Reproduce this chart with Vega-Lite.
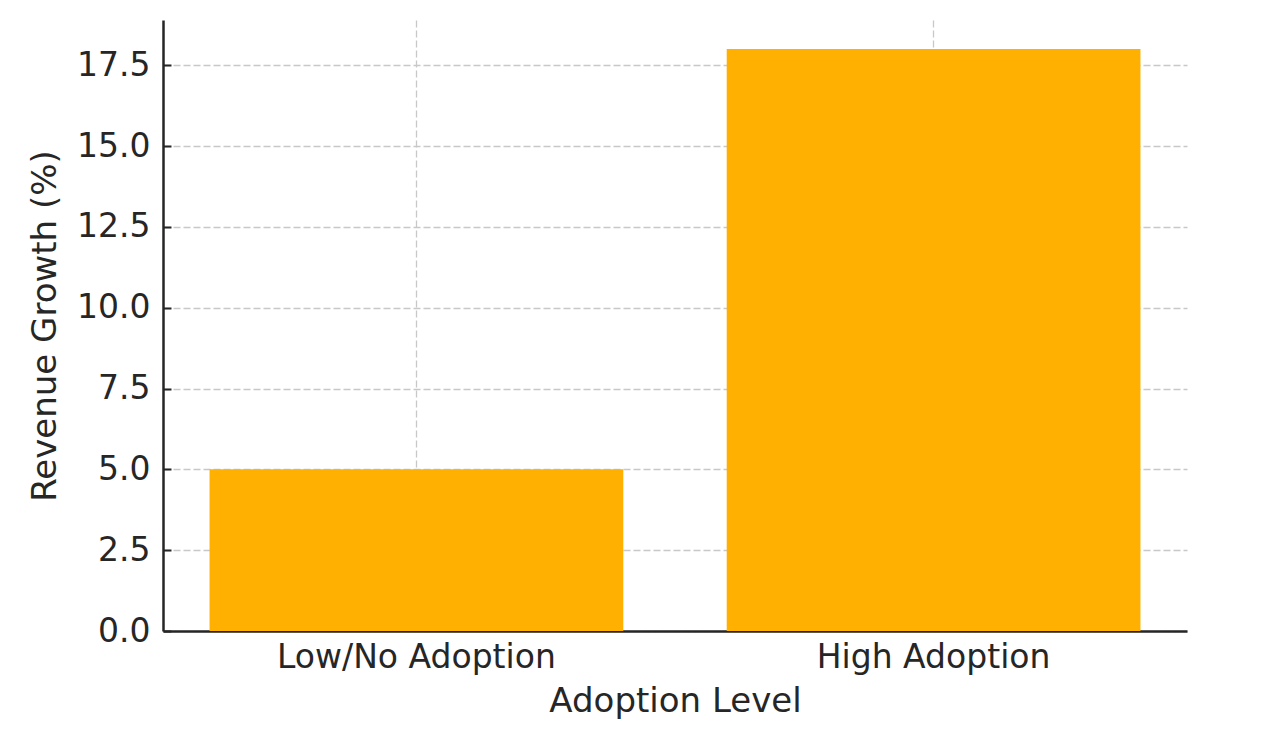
{
  "$schema": "https://vega.github.io/schema/vega-lite/v6.json",
  "autosize": {"type": "none"},
  "padding": {"left": 163, "top": 20, "right": 100, "bottom": 104},
  "width": 1024,
  "height": 611,
  "background": "white",
  "config": {
    "view": {"stroke": null},
    "font": "DejaVu Sans",
    "axis": {
      "labelFont": "DejaVu Sans",
      "titleFont": "DejaVu Sans",
      "labelFontSize": 33,
      "titleFontSize": 34,
      "labelLimit": 0,
      "titleFontWeight": "normal",
      "labelColor": "#262626",
      "titleColor": "#262626",
      "domainColor": "#262626",
      "domainWidth": 2.5,
      "tickColor": "#262626",
      "tickWidth": 2,
      "gridColor": "#c8c8c8",
      "gridWidth": 1.3,
      "gridDash": [7, 3],
      "zindex": 1
    }
  },
  "data": {
    "values": [
      {"level": "Low/No Adoption", "growth": 5},
      {"level": "High Adoption", "growth": 18}
    ]
  },
  "mark": {"type": "bar", "color": "#FFB000"},
  "encoding": {
    "x": {
      "field": "level",
      "type": "nominal",
      "sort": null,
      "title": "Adoption Level",
      "scale": {"paddingInner": 0.2, "paddingOuter": 0.09},
      "axis": {
        "labelAngle": 0,
        "grid": true,
        "bandPosition": 0.5,
        "ticks": false,
        "labelPadding": 10,
        "titlePadding": 10
      }
    },
    "y": {
      "field": "growth",
      "type": "quantitative",
      "title": "Revenue Growth (%)",
      "scale": {"domain": [0, 18.9], "nice": false},
      "axis": {
        "values": [0, 2.5, 5, 7.5, 10, 12.5, 15, 17.5],
        "format": ".1f",
        "grid": true,
        "tickSize": -8,
        "labelPadding": 21,
        "titlePadding": 14
      }
    }
  }
}
